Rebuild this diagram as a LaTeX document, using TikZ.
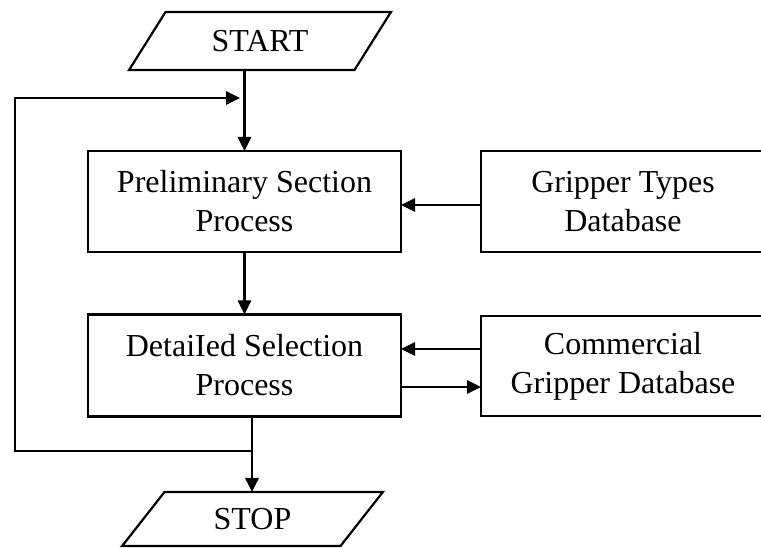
\documentclass[tikz,border=0pt]{standalone}
\usepackage{fontspec}
\setmainfont{Liberation Serif}
\usetikzlibrary{arrows.meta,shapes.geometric}
\begin{document}
\begin{tikzpicture}[x=1pt,y=-1pt,
  font=\fontsize{32}{39}\selectfont,
  boxnode/.style={draw, rectangle, line width=2.2pt, align=center, outer sep=0pt, inner sep=0pt},
  para/.style={draw, trapezium, trapezium left angle=49, trapezium right angle=131,
    trapezium stretches=true, line width=2.2pt, outer sep=0pt, inner sep=0pt},
  arr/.style={line width=2.7pt, -{Triangle[length=14pt,width=13pt]}}]
\useasboundingbox (0,0) rectangle (761,548);
\clip (0,0) rectangle (761,548);
\fill[white] (0,0) rectangle (761,548);

\node[para, minimum width=262, minimum height=58] (start) at (260,41) {START};
\node[boxnode, minimum width=313, minimum height=101] (pre) at (244.5,201.5) {Preliminary Section\\Process};
\node[boxnode, minimum width=284, minimum height=101] (gt) at (623,201.5) {Gripper Types\\Database};
\node[boxnode, minimum width=313, minimum height=102] (det) at (244.5,365.5) {DetaiIed Selection\\Process};
\node[boxnode, minimum width=284, minimum height=100] (cgd) at (623,366) {Commercial\\Gripper Database};
\node[para, minimum width=261, minimum height=54] (stop) at (252.5,519) {STOP};

\coordinate (j) at (252,451);
\coordinate (l2) at (15,98);
\coordinate (tip) at (240,98);

\draw[arr] (start.south -| pre.north) -- (pre.north);
\draw[arr] (pre.south) -- (det.north);
\draw[arr] ([yshift=-3.5pt]gt.west) -- ([yshift=-3.5pt]gt.west -| pre.east);
\draw[arr] ([yshift=17pt]cgd.west) -- ([yshift=17pt]cgd.west -| det.east);
\draw[arr] ([yshift=-21pt]cgd.west -| det.east) -- ([yshift=-21pt]cgd.west);
\draw[arr] (det.south -| j) -- (stop.north -| j);
\draw[arr] (j) -| (l2) -- (tip);
\end{tikzpicture}
\end{document}
